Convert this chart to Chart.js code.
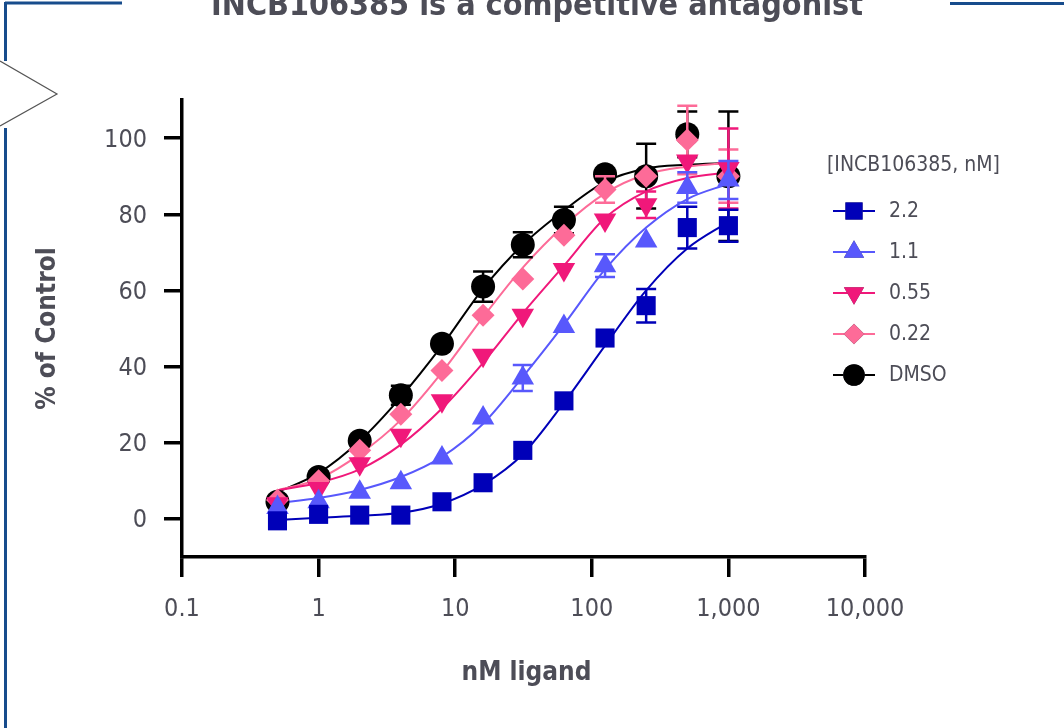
<!DOCTYPE html>
<html><head><meta charset="utf-8">
<script src="https://cdn.jsdelivr.net/npm/chart.js@4"></script>
<style>html,body{margin:0;padding:0;background:#fff;overflow:hidden}#wrap{width:1064px;height:728px;position:relative}</style>
</head><body><div id="wrap"><canvas id="c" width="1064" height="728"></canvas></div>
<script>
// ---------- data ----------
const concentrations = [0.5, 1, 2, 4, 8, 16, 31.25, 62.5, 125, 250, 500, 1000];
const seriesLabels = ['2.2', '1.1', '0.55', '0.22', 'DMSO'];

const values22   = [-0.5, 1.2, 1, 1, 4.5, 9.5, 18, 31, 47.5, 56, 76.5, 77];
const values11   = [3, 4.5, 7, 9.5, 16, 26.5, 37, 50.5, 66.5, 73, 87, 89];
const values055  = [4, 8, 14.5, 22, 31, 43, 53.5, 65.5, 78.5, 82.5, 94, 92];
const values022  = [5, 10, 18, 27.5, 39, 53.5, 63, 74.5, 86.5, 90, 99.5, 90];
const valuesDMSO = [4.5, 11, 20.5, 32.5, 46, 61, 72, 78.5, 90.5, 90, 101, 90];

const errors22   = [0, 0, 0, 0, 0, 0, 0, 0, 0, 4.4, 5.5, 4.2];
const errors11   = [0, 0, 0, 0, 0, 0, 3.4, 0, 3, 0, 4, 5];
const errors055  = [0, 0, 0, 0, 0, 0, 0, 0, 0, 3.5, 0, 10.5];
const errors022  = [0, 0, 0, 0, 0, 0, 0, 0, 3.5, 0, 9, 7];
const errorsDMSO = [0, 0, 0, 2.5, 0, 4, 3.3, 3.5, 0, 8.5, 6, 17];

// fitted curves at the same concentrations
const curve22   = [-0.3, 0.3, 0.8, 1.6, 4, 9, 17, 30.5, 45.5, 60, 71, 78];
const curve11   = [4.2, 5.5, 7.6, 11, 16.3, 25, 37.3, 51, 65.5, 76.5, 84, 88];
const curve055  = [7.5, 9.5, 13, 19.5, 29, 41, 54, 66.5, 79, 86, 89.5, 91];
const curve022  = [7.5, 10.5, 17, 26, 38.5, 53, 66, 77, 85.5, 90.5, 92.5, 93.5];
const curveDMSO = [7, 12, 20.5, 32, 45.5, 60.5, 72, 81, 88.5, 92, 93, 93.5];

const xTickValues = [0.1, 1, 10, 100, 1000, 10000];
const xTickLabels = ['0.1', '1', '10', '100', '1,000', '10,000'];
const yTickValues = [0, 20, 40, 60, 80, 100];

const chartTitle = 'INCB106385 is a competitive antagonist';
const xTitle = 'nM ligand';
const yTitle = '% of Control';
const legendTitle = '[INCB106385, nM]';

// ---------- styles ----------
const FONT = '"DejaVu Sans Condensed", "DejaVu Sans", sans-serif';
const TEXT = '#4d4d57';
const colors = ['#0000b8', '#5858fc', '#f0187a', '#fd6b98', '#000000'];
const styles = [
  {pointStyle: 'rect', radius: 13.5, rotation: 0},
  {pointStyle: 'triangle', radius: 13, rotation: 0},
  {pointStyle: 'triangle', radius: 13, rotation: 180},
  {pointStyle: 'rectRot', radius: 11.5, rotation: 0},
  {pointStyle: 'circle', radius: 12, rotation: 0}
];
const allValues = [values22, values11, values055, values022, valuesDMSO];
const allErrors = [errors22, errors11, errors055, errors022, errorsDMSO];
const allCurves = [curve22, curve11, curve055, curve022, curveDMSO];

const datasets = [];
seriesLabels.forEach((lab, s) => {
  datasets.push({
    type: 'scatter', label: lab,
    data: concentrations.map((c, i) => ({x: c, y: allValues[s][i]})),
    errors: allErrors[s],
    backgroundColor: colors[s], borderColor: colors[s], borderWidth: 0,
    pointStyle: styles[s].pointStyle, pointRadius: styles[s].radius,
    pointRotation: styles[s].rotation, pointHoverRadius: styles[s].radius,
    order: s, clip: false
  });
});
seriesLabels.forEach((lab, s) => {
  datasets.push({
    type: 'line', label: lab + ' fit', isFit: true,
    data: concentrations.map((c, i) => ({x: c, y: allCurves[s][i]})),
    borderColor: colors[s], borderWidth: 2, pointRadius: 0,
    cubicInterpolationMode: 'monotone', fill: false,
    order: 10 + s
  });
});

const errorBars = {
  id: 'errorBars',
  beforeDatasetDraw(chart, args) {
    const ds = chart.data.datasets[args.index];
    if (!ds.errors) return;
    const ctx = chart.ctx, xs = chart.scales.x, ys = chart.scales.y;
    ctx.save();
    ctx.strokeStyle = ds.borderColor; ctx.lineWidth = 2.5;
    ds.data.forEach((p, i) => {
      const e = ds.errors[i]; if (!e) return;
      const x = xs.getPixelForValue(p.x);
      const y1 = ys.getPixelForValue(p.y + e), y2 = ys.getPixelForValue(p.y - e);
      ctx.beginPath();
      ctx.moveTo(x, y1); ctx.lineTo(x, y2);
      ctx.moveTo(x - 10, y1); ctx.lineTo(x + 10, y1);
      ctx.moveTo(x - 10, y2); ctx.lineTo(x + 10, y2);
      ctx.stroke();
    });
    ctx.restore();
  }
};

const decorations = {
  id: 'decorations',
  afterDraw(chart) {
    const ctx = chart.ctx, ca = chart.chartArea;
    ctx.save();
    // slide frame
    ctx.strokeStyle = '#174c8c'; ctx.lineWidth = 3;
    ctx.beginPath();
    ctx.moveTo(5, 3); ctx.lineTo(122, 3);
    ctx.moveTo(950, 3.5); ctx.lineTo(1064, 3.5);
    ctx.moveTo(5.5, 2); ctx.lineTo(5.5, 61);
    ctx.moveTo(5.5, 128); ctx.lineTo(5.5, 728);
    ctx.stroke();
    ctx.fillStyle = '#fff'; ctx.strokeStyle = '#555'; ctx.lineWidth = 1.2;
    ctx.beginPath();
    ctx.moveTo(0, 61); ctx.lineTo(57, 94); ctx.lineTo(0, 126);
    ctx.fill(); ctx.stroke();
    // title
    ctx.fillStyle = TEXT; ctx.textAlign = 'center'; ctx.textBaseline = 'alphabetic';
    ctx.font = 'bold 32px ' + FONT;
    ctx.fillText(chartTitle, 537, 15);
    // axis titles
    ctx.font = 'bold 26px ' + FONT;
    ctx.textBaseline = 'middle';
    ctx.fillText(xTitle, (ca.left + ca.right) / 2 + 3, 673);
    ctx.save();
    ctx.translate(48, (ca.top + ca.bottom) / 2);
    ctx.rotate(-Math.PI / 2);
    ctx.fillText(yTitle, 0, 0);
    ctx.restore();
    // legend
    ctx.font = '21px ' + FONT;
    ctx.textAlign = 'left';
    ctx.fillText(legendTitle, 827, 166);
    seriesLabels.forEach((lab, s) => {
      const y = 211 + s * 41;
      ctx.strokeStyle = colors[s]; ctx.lineWidth = 2;
      ctx.beginPath(); ctx.moveTo(833, y); ctx.lineTo(875, y); ctx.stroke();
      Chart.helpers.drawPoint(ctx, {
        pointStyle: styles[s].pointStyle, radius: styles[s].radius * 0.9,
        rotation: styles[s].rotation, borderWidth: 0
      }, 854, y);
      ctx.fillStyle = colors[s];
      ctx.fill();
      ctx.fillStyle = TEXT;
      ctx.fillText(lab, 889, y + 1);
    });
    ctx.restore();
  }
};

new Chart(document.getElementById('c'), {
  data: {datasets},
  options: {
    responsive: false, animation: false, devicePixelRatio: 1,
    layout: {padding: {left: 0, right: 199, top: 100, bottom: 0}},
    plugins: {legend: {display: false}, title: {display: false}, tooltip: {enabled: false}},
    scales: {
      x: {
        type: 'logarithmic', position: 'bottom', min: 0.1, max: 10000,
        afterBuildTicks: sc => { sc.ticks = xTickValues.map(v => ({value: v})); },
        afterFit: sc => { sc.height = 171; },
        border: {display: true, color: '#000', width: 3.5},
        grid: {drawOnChartArea: false, drawTicks: true, tickLength: 20, lineWidth: 3.5, tickWidth: 3.5, tickColor: '#000', color: '#000'},
        ticks: {
          font: {family: FONT, size: 25}, color: TEXT, padding: 17, maxRotation: 0, autoSkip: false,
          callback: (v, i) => xTickLabels[i]
        }
      },
      y: {
        type: 'linear', position: 'left', min: -10, max: 110,
        afterBuildTicks: sc => { sc.ticks = yTickValues.map(v => ({value: v})); },
        afterFit: sc => { sc.width = 182; },
        border: {display: true, color: '#000', width: 3.5},
        grid: {drawOnChartArea: false, drawTicks: true, tickLength: 18, lineWidth: 3.5, tickWidth: 3.5, tickColor: '#000', color: '#000'},
        ticks: {
          font: {family: FONT, size: 25}, color: TEXT, padding: 17, labelOffset: 2,
          callback: v => String(v)
        }
      }
    }
  },
  plugins: [errorBars, decorations]
});
</script>
</body></html>
